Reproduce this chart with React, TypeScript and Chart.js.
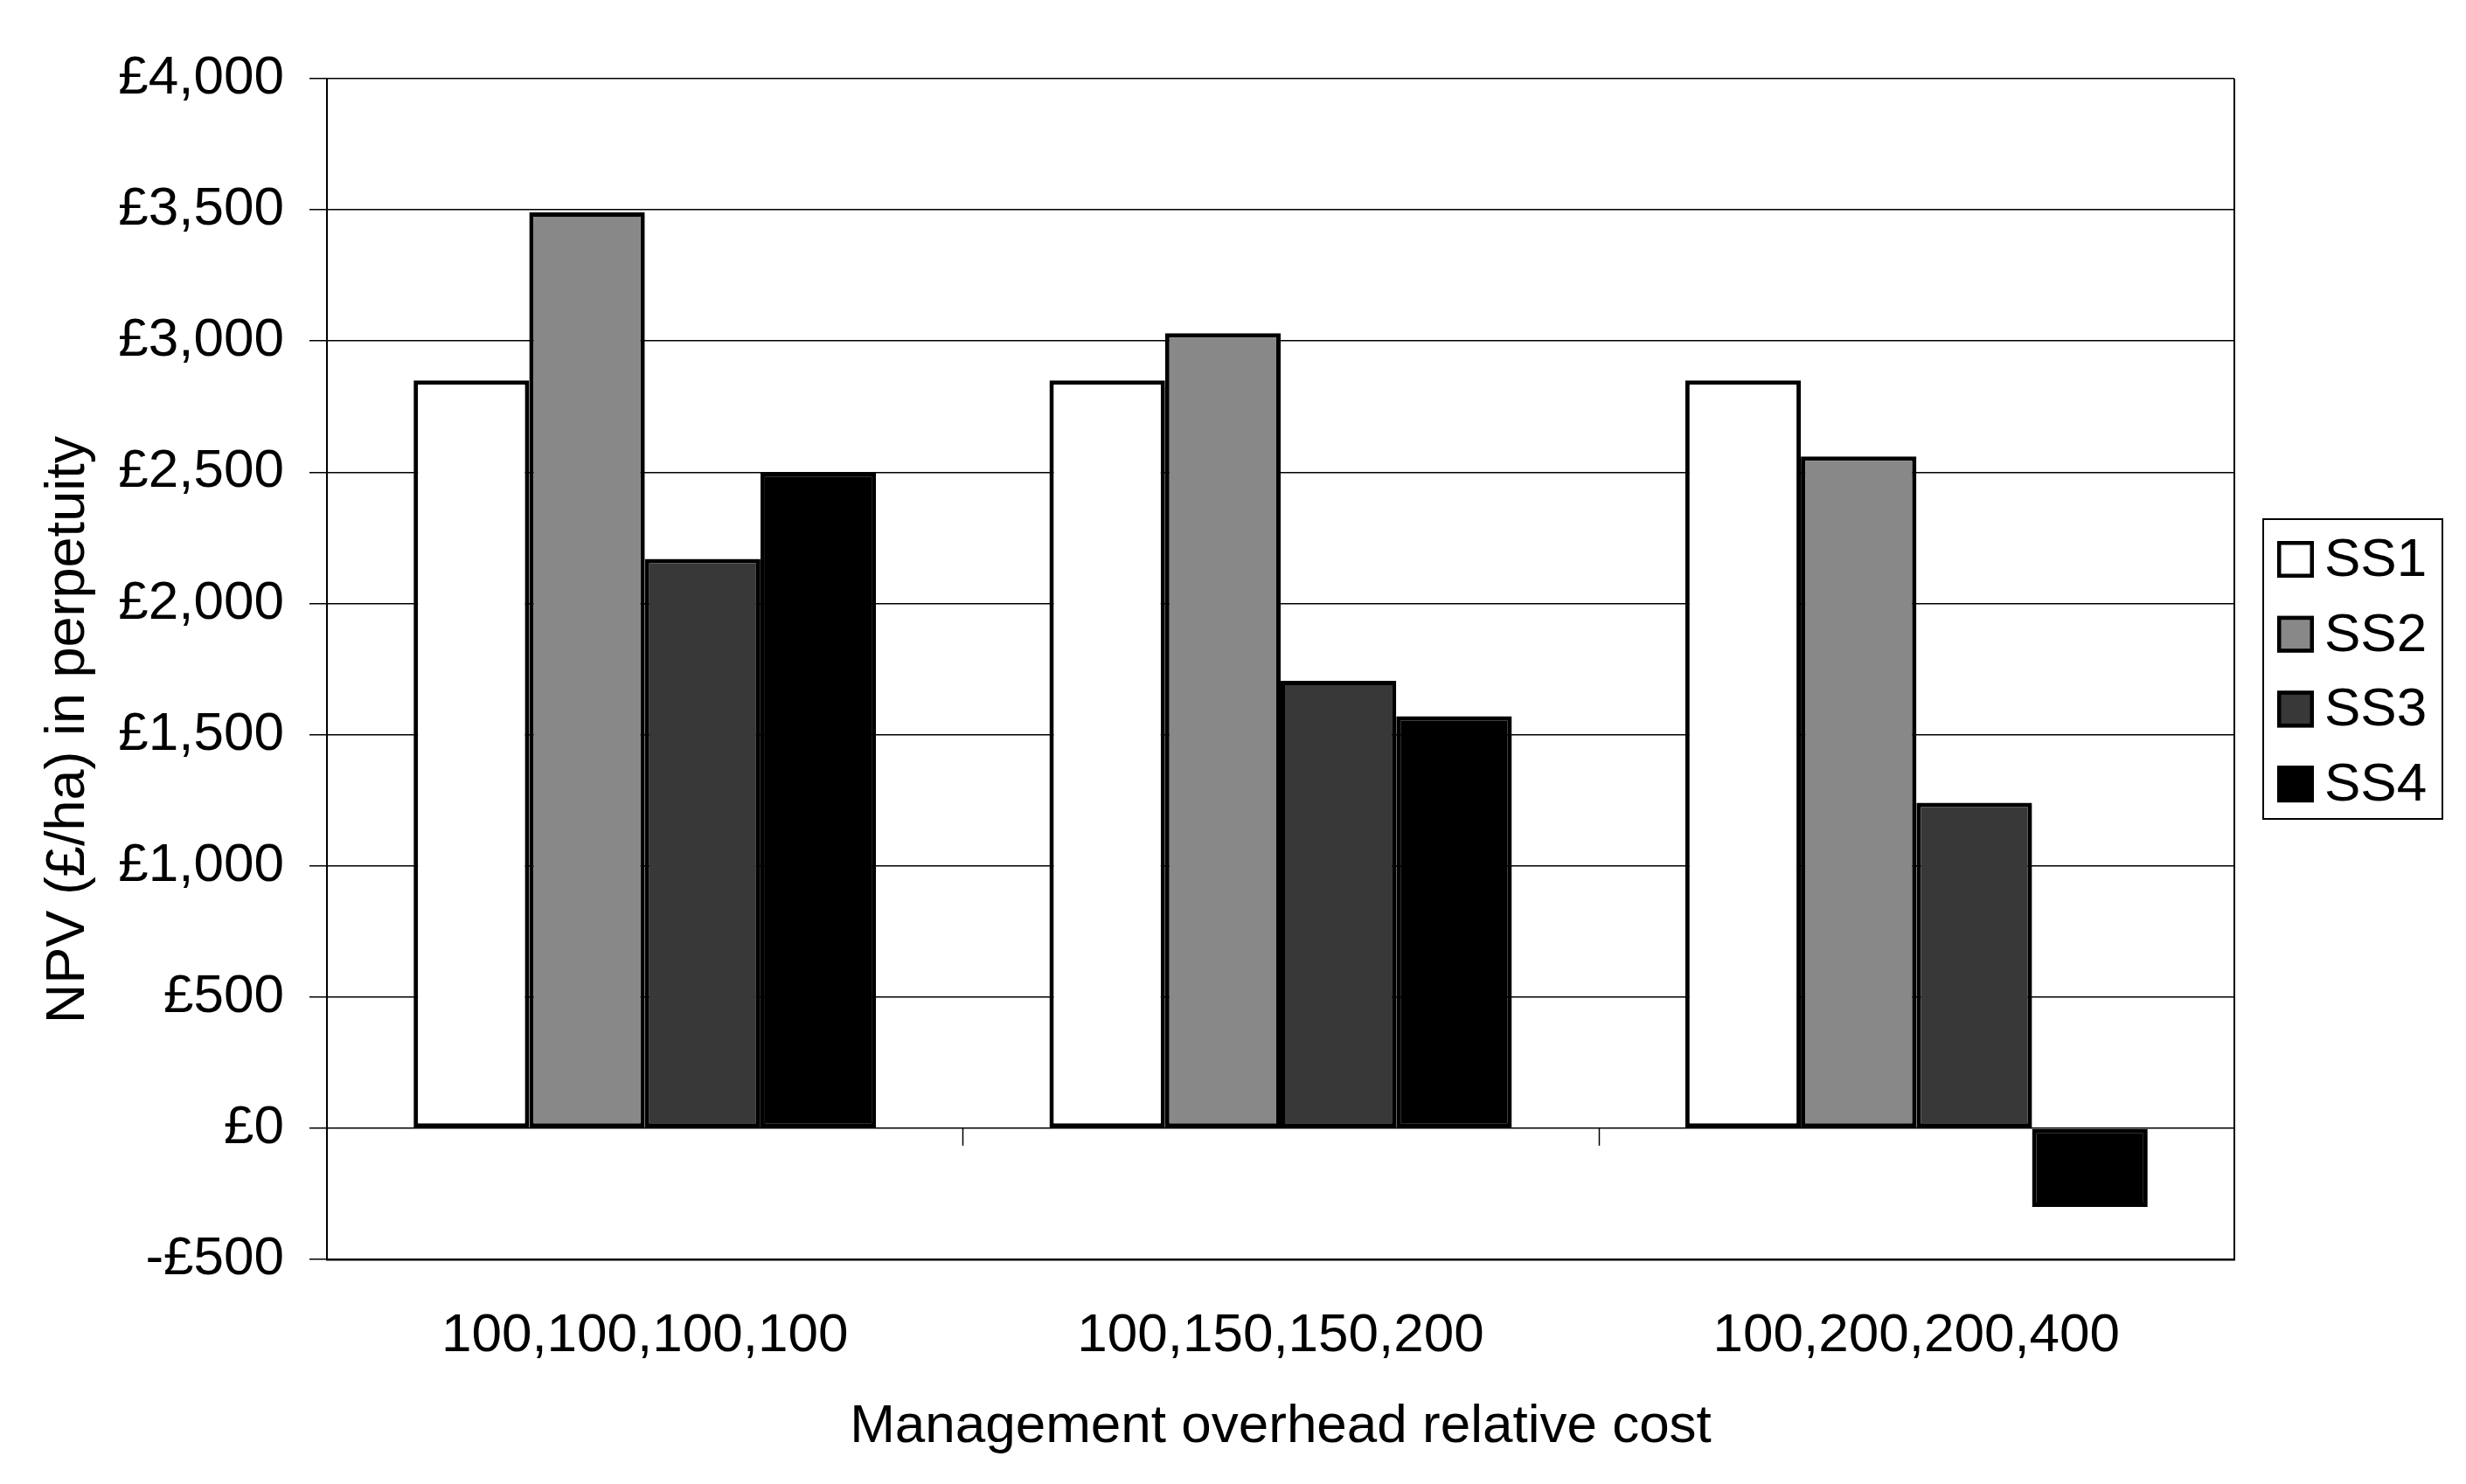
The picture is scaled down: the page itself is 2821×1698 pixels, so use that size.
import React, { useEffect, useRef } from 'react';
import { Chart, registerables } from 'chart.js';

Chart.register(...registerables);

const categories = ['100,100,100,100', '100,150,150,200', '100,200,200,400'];
const seriesNames = ['SS1', 'SS2', 'SS3', 'SS4'];
const ss1 = [2850, 2850, 2850];
const ss2 = [3490, 3030, 2560];
const ss3 = [2170, 1705, 1240];
const ss4 = [2500, 1570, -300];
const seriesColors = ['#ffffff', '#888888', '#383838', '#000000'];
const yMin = -500;
const yMax = 4000;
const yStep = 500;
const xTitle = 'Management overhead relative cost';
const yTitle = 'NPV (£/ha) in perpetuity';

const FONT = '"Liberation Sans", Arial, Helvetica, sans-serif';
const W = 2821;
const H = 1698;

function fmtMoney(v: number): string {
  const abs = Math.abs(v).toFixed(0).replace(/\B(?=(\d{3})+(?!\d))/g, ',');
  return (v < 0 ? '-' : '') + '£' + abs;
}

const decorPlugin = {
  id: 'decor',
  beforeDraw(chart: any) {
    const ctx = chart.ctx;
    ctx.save();
    ctx.fillStyle = '#ffffff';
    ctx.fillRect(0, 0, chart.width, chart.height);
    ctx.restore();
  },
  afterDraw(chart: any) {
    const ctx = chart.ctx;
    const area = chart.chartArea;
    const xs = chart.scales.x;
    const ys = chart.scales.y;
    ctx.save();
    // right border of plot area
    ctx.strokeStyle = '#000';
    ctx.lineWidth = 2;
    ctx.beginPath();
    ctx.moveTo(area.right, area.top);
    ctx.lineTo(area.right, area.bottom);
    ctx.stroke();
    // category tick marks hanging from the zero line
    const y0 = ys.getPixelForValue(0);
    ctx.lineWidth = 1.5;
    for (let i = 1; i < categories.length; i++) {
      const x = (xs.getPixelForValue(i - 1) + xs.getPixelForValue(i)) / 2;
      ctx.beginPath();
      ctx.moveTo(Math.round(x) + 0.5, y0);
      ctx.lineTo(Math.round(x) + 0.5, y0 + 20);
      ctx.stroke();
    }
    // y title
    ctx.fillStyle = '#000';
    ctx.font = `63px ${FONT}`;
    ctx.textAlign = 'center';
    ctx.textBaseline = 'middle';
    ctx.translate(79, 835);
    ctx.rotate(-Math.PI / 2);
    ctx.fillText(yTitle, 0, 0);
    ctx.restore();

    // legend
    ctx.save();
    const lx = area.right + 33;
    const ly = 594;
    const lw = 205;
    const lh = 343;
    ctx.fillStyle = '#fff';
    ctx.fillRect(lx, ly, lw, lh);
    ctx.strokeStyle = '#000';
    ctx.lineWidth = 2;
    ctx.strokeRect(lx, ly, lw, lh);
    ctx.font = `62px ${FONT}`;
    ctx.textAlign = 'left';
    ctx.textBaseline = 'middle';
    chart.data.datasets.forEach((ds: any, i: number) => {
      const cy = 640 + i * 85.7;
      const sx = lx + 16;
      const size = 42;
      ctx.fillStyle = ds.backgroundColor;
      ctx.fillRect(sx, cy - size / 2, size, size);
      ctx.strokeStyle = '#000';
      ctx.lineWidth = 4.5;
      ctx.strokeRect(sx + 2.25, cy - size / 2 + 2.25, size - 4.5, size - 4.5);
      ctx.fillStyle = '#000';
      ctx.fillText(ds.label, sx + size + 12, cy + 2);
    });
    ctx.restore();
  },
};

export default function App() {
  const ref = useRef<HTMLCanvasElement | null>(null);

  useEffect(() => {
    if (!ref.current) return;
    const seriesValues = [ss1, ss2, ss3, ss4];
    const chart = new Chart(ref.current, {
      type: 'bar',
      data: {
        labels: categories,
        datasets: seriesNames.map((name, i) => ({
          label: name,
          data: seriesValues[i],
          backgroundColor: seriesColors[i],
          borderColor: '#000000',
          borderWidth: 5,
          borderSkipped: false,
          barPercentage: 1,
          categoryPercentage: 4 / 5.5,
        })),
      },
      options: {
        responsive: false,
        animation: false,
        devicePixelRatio: 1,
        layout: { padding: { top: 90, right: W - 2556, left: 0, bottom: 0 } },
        plugins: {
          legend: { display: false },
          tooltip: { enabled: false },
        },
        scales: {
          x: {
            type: 'category',
            position: 'bottom',
            grid: { display: false, drawTicks: false },
            border: { display: true, color: '#000', width: 2.5 },
            ticks: {
              color: '#000',
              font: { family: FONT, size: 62 },
              padding: 51,
              maxRotation: 0,
              autoSkip: false,
            },
            title: {
              display: true,
              text: xTitle,
              color: '#000',
              font: { family: FONT, size: 62 },
              padding: { top: 0, bottom: 28 },
            },
            afterFit(scale: any) {
              scale.height = H - 1441;
            },
          },
          y: {
            type: 'linear',
            min: yMin,
            max: yMax,
            grid: {
              color: '#000',
              lineWidth: 1.5,
              drawTicks: true,
              tickLength: 20,
              tickColor: '#000',
            },
            border: { display: true, color: '#000', width: 2 },
            ticks: {
              stepSize: yStep,
              color: '#000',
              font: { family: FONT, size: 62 },
              padding: 29,
              callback: (v: any) => fmtMoney(Number(v)),
            },
            afterFit(scale: any) {
              scale.width = 374;
            },
          },
        },
      },
      plugins: [decorPlugin],
    } as any);
    return () => chart.destroy();
  }, []);

  return (
    <div style={{ position: 'fixed', left: 0, top: 0, width: W, height: H, background: '#fff' }}>
      <canvas ref={ref} width={W} height={H} style={{ display: 'block', width: W, height: H }} />
    </div>
  );
}
